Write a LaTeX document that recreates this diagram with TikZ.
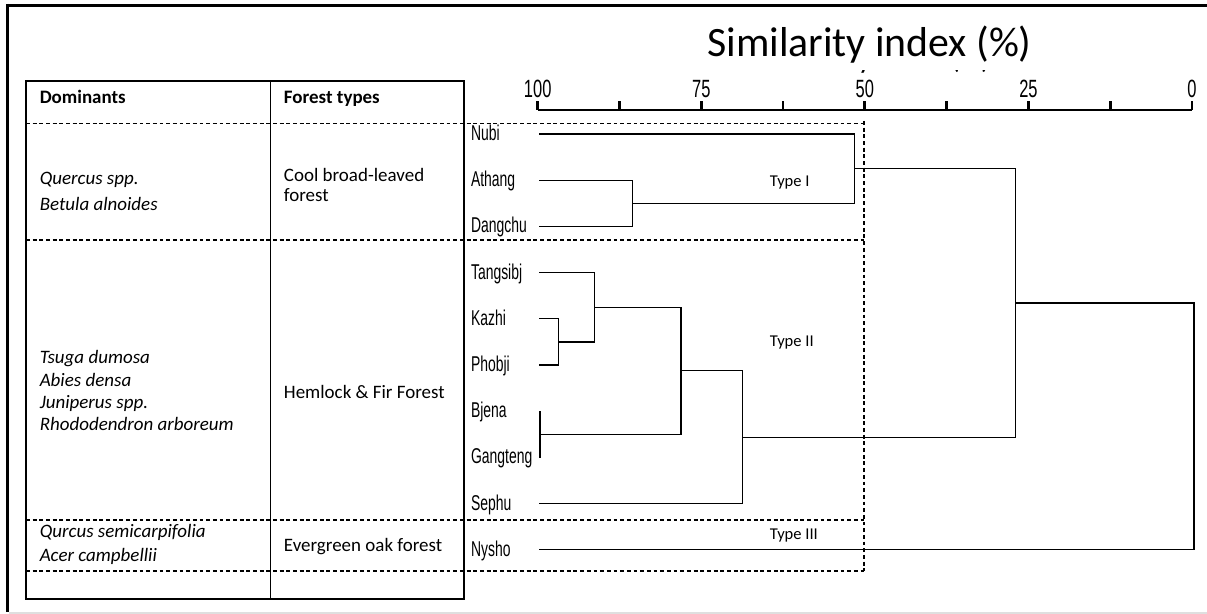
\documentclass[tikz,border=0pt]{standalone}
\usepackage{fontspec}
\setmainfont{Carlito}
\newfontfamily\narrowfont[FakeStretch=0.65]{Liberation Sans}
\newfontfamily\ticksfont[FakeStretch=0.66]{Liberation Sans}

\tikzset{
  dend/.style={line width=0.75pt},
  grid/.style={line width=0.85pt},
  dashgrid/.style={line width=0.7pt, dash pattern=on 2.2pt off 1.6pt},
  tabtxt/.style={anchor=base west, inner sep=0, font=\fontsize{10.8}{13}\selectfont},
  leaf/.style={anchor=base west, inner sep=0, font=\narrowfont\fontsize{12.2}{14}\selectfont},
  ticklbl/.style={anchor=base, inner sep=0, font=\ticksfont\fontsize{14.2}{16}\selectfont},
  typelbl/.style={anchor=base west, inner sep=0, font=\fontsize{9.4}{11}\selectfont}
}

\begin{document}
\begin{tikzpicture}[x=0.02cm,y=-0.02cm]
\useasboundingbox (0,0) rectangle (1207,614);
% frame
\draw [line width=2pt] (6,5.5) -- (1207,5.5);
\draw [line width=2pt] (7.5,4) -- (7.5,612);
\draw [gray!25, line width=0.9pt] (9,612.8) -- (1207,612.8);

% table
\draw [grid] (26,81) rectangle (463.8,599);
\draw [grid] (270.6,81) -- (270.6,599);
\foreach \y in {123.5,240,520,571}
  \draw [dashgrid] (26,\y) -- (864,\y);
\draw [dashgrid] (864,121) -- (864,571);

\node [tabtxt] (hdom) at (39.4,104) {\bfseries Dominants};
\node [tabtxt] (hft) at (283.6,104) {\bfseries Forest types};
\foreach \txt/\y [count=\i] in {Quercus spp./185, Betula alnoides/211,
    Tsuga dumosa/364, Abies densa/387, Juniperus spp./409,
    Rhododendron arboreum/431, Qurcus semicarpifolia/538, Acer campbellii/561.7}
  \node [tabtxt] (dom\i) at (39.4,\y) {\itshape \txt};
\node [tabtxt] (ft1) at (283.6,181.7) {Cool broad-leaved};
\node [tabtxt] (ft1b) at (283.6,202) {forest};
\node [tabtxt] (ft2) at (283.6,399) {Hemlock \& Fir Forest};
\node [tabtxt] (ft3) at (283.6,552) {Evergreen oak forest};

% scale
\begin{scope}
  \clip (740,70.5) rectangle (1000,80);
  \node [anchor=base east, inner sep=0, font=\fontsize{17}{20}\selectfont] (ghost) at (990.5,69) {Similarity index (\%)};
\end{scope}
\node [anchor=base, inner sep=0, font=\fontsize{23.8}{28}\selectfont] (title) at (869.5,56.7) {Similarity index (\%)};
\draw [line width=1.6pt] (537.7,110) -- (1192,110);
\foreach \v in {0,...,8}
  \draw [line width=1.6pt] ({537.7+81.79*\v},110) -- ++(0,-8.5);
\foreach \lbl [count=\i from 0] in {100,75,50,25,0}
  \node [ticklbl] (t\lbl) at ({537.7+163.58*\i},98) {\lbl};

% leaves
\foreach \name [count=\i from 0] in {Nubi,Athang,Dangchu,Tangsibj,Kazhi,Phobji,Bjena,Gangteng,Sephu,Nysho} {
  \node [leaf] (\name) at (470.7,{140.5+46.2*\i}) {\name};
  \coordinate (l\name) at (539,{134+46.2*\i});
}

% merges
\coordinate (mAD) at (632.5,203.3);
\coordinate (mI) at (854.4,168.7);
\coordinate (mKP) at (558.3,341.9);
\coordinate (mTKP) at (594.3,307.3);
\coordinate (mBG) at (540,434.3);
\coordinate (mTG) at (681,370.8);
\coordinate (mII) at (742.6,437.2);
\coordinate (mTop) at (1015.4,303);
\coordinate (root) at (1194,426.4);

\draw [dend] (lAthang) -| (mAD) |- (lDangchu);
\draw [dend] (lNubi) -| (mI) |- (mAD);
\draw [dend] (lKazhi) -| (mKP) |- (lPhobji);
\draw [dend] (lTangsibj) -| (mTKP) |- (mKP);
\draw [dend] (lBjena) -| (mBG) |- (lGangteng);
\draw [dend] (mTKP) -| (mTG) |- (mBG);
\draw [dend] (mTG) -| (mII) |- (lSephu);
\draw [dend] (mI) -| (mTop) |- (mII);
\draw [dend] (mTop) -| (root) |- (lNysho);

\node [typelbl] (typeI) at (769.6,186.5) {Type I};
\node [typelbl] (typeII) at (769.6,346.5) {Type II};
\node [typelbl] (typeIII) at (769.6,540) {Type III};
\end{tikzpicture}
\end{document}
